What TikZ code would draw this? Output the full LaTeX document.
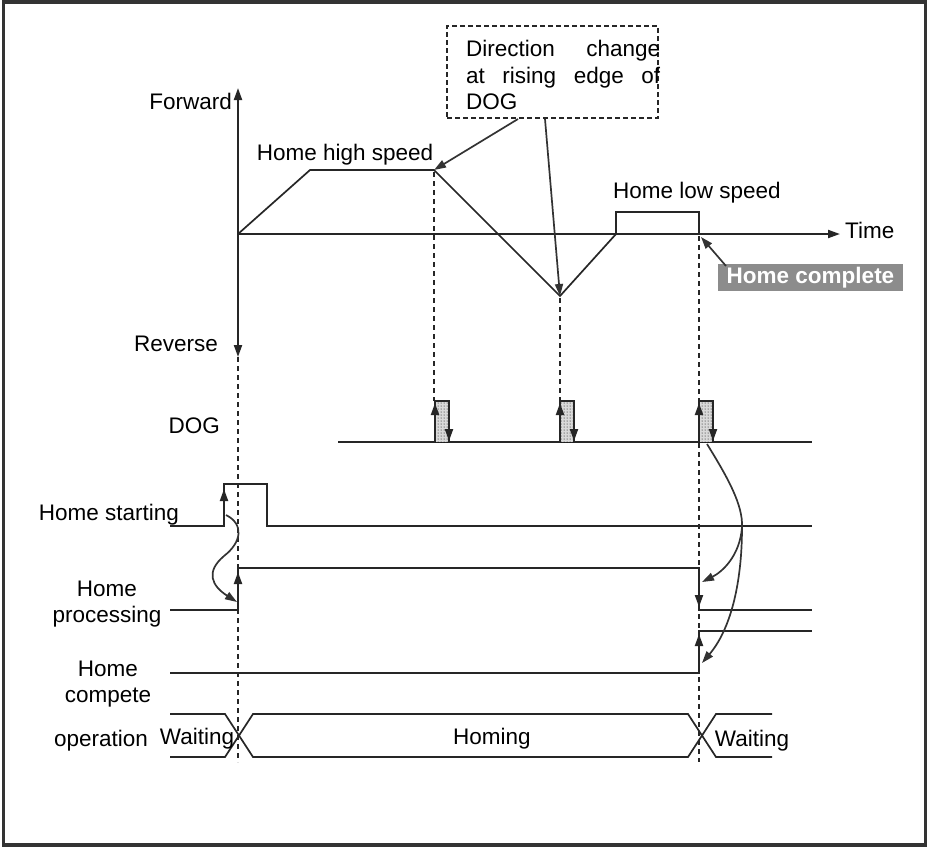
\documentclass[tikz,border=0pt]{standalone}
\usepackage{fontspec}
\setmainfont{Liberation Sans}
\usetikzlibrary{arrows.meta,patterns}
\begin{document}
\begin{tikzpicture}[x=1pt,y=-1pt,
  wave/.style={draw=black!85, line width=2pt},
  dline/.style={draw=black!85, line width=1.6pt, dash pattern=on 5pt off 4pt},
  arr/.style={draw=black!85, line width=2pt, -{Triangle[length=12pt,width=8pt]}},
  carr/.style={draw=black!80, line width=1.7pt, -{Triangle[length=12pt,width=8pt]}},
  lbl/.style={font=\fontsize{22.5}{26.5}\selectfont, inner sep=0pt, anchor=base},
  pulse/.style={draw=black!85, line width=2pt, pattern=dots, pattern color=black}]
\useasboundingbox (0,0) rectangle (928,847);
\draw[line width=3.5pt, black!80] (3.5,2) rectangle (925.5,845);

% ---------- speed profile ----------
\coordinate (O) at (238,234);
\coordinate (Ftop) at (238,88);
\coordinate (Rbot) at (238,357);
\coordinate (Tend) at (840,234);
\draw[arr] (O) -- (Ftop);
\draw[arr] (O) -- (Rbot);
\draw[arr] (O) -- (Tend);
\coordinate (hsA) at (310,170);
\coordinate (hsB) at (434,170);
\coordinate (vpt) at (560,296);
\coordinate (lsA) at (616,234);
\coordinate (lsB) at (699,234);
\draw[wave, line width=1.7pt] (O) -- (hsA) -- (hsB) -- (vpt) -- (lsA) -- (616,212) -- (699,212) -- (lsB);

\node[lbl, anchor=base east] (fwd) at (232,109) {Forward};
\node[lbl, anchor=base east] (rev) at (218,351) {Reverse};
\node[lbl, anchor=base west] (time) at (845,238) {Time};
\node[lbl] (hhs) at (345,160) {Home high speed};
\node[lbl] (hls) at (697,198) {Home low speed};

% Direction change box
\node[draw=black!85, line width=1.4pt, dash pattern=on 5pt off 3pt, minimum width=211pt, minimum height=92pt, inner sep=0pt] (dbox) at (552.5,72) {};
\node[lbl, anchor=base west] (d1) at (466,56) {\makebox[194pt][s]{Direction change}};
\node[lbl, anchor=base west] (d2) at (466,83) {\makebox[194pt][s]{at rising edge of}};
\node[lbl, anchor=base west] (d3) at (466,109) {DOG};
\coordinate (db1) at (518,119);
\coordinate (db2) at (545,119);
\draw[carr] (db1) -- (hsB);
\draw[carr] (db2) -- (vpt);

% Home complete
\node[fill=black!45, text=white, font=\fontsize{22.5}{26.5}\selectfont\bfseries, inner sep=0pt, minimum width=185pt, minimum height=27pt] (hc) at (810.5,277.5) {Home complete};
\coordinate (hcA) at (726,266);
\draw[carr] (hcA) -- (701,237);

% ---------- dashed guides ----------
\draw[dline] (238,357) -- (238,762);
\draw[dline] (434,172) -- (434,401);
\draw[dline] (560,298) -- (560,401);
\draw[dline] (699,236) -- (699,762);

% ---------- DOG ----------
\node[lbl, anchor=base east] (dog) at (220,433) {DOG};
\draw[wave] (338,442) -- (812,442);
\foreach \px in {435,560,699}{
  \fill[black!15] (\px,401) rectangle (\px+14,442);
  \draw[pulse] (\px,442) -- (\px,401) -- (\px+14,401) -- (\px+14,442);
  \draw[arr] (\px,428) -- (\px,403);
  \draw[arr] (\px+14,418) -- (\px+14,441);
}

% ---------- Home starting ----------
\node[lbl] (hst) at (109,520) {Home starting};
\draw[wave] (170,526) -- (224,526) -- (224,484) -- (267,484) -- (267,526) -- (812,526);
\draw[arr] (224,515) -- (224,489);

% ---------- Home processing ----------
\node[lbl] (hp1) at (107,596) {Home};
\node[lbl] (hp2) at (107,622) {processing};
\draw[wave] (170,610) -- (238,610) -- (238,568) -- (699,568) -- (699,610) -- (812,610);
\draw[arr] (238,600) -- (238,572);
\draw[arr] (699,580) -- (699,607);

% ---------- Home compete ----------
\node[lbl] (hc1) at (108,676) {Home};
\node[lbl] (hc2) at (108,702) {compete};
\draw[wave] (170,673) -- (699,673) -- (699,631) -- (812,631);
\draw[arr] (699,660) -- (699,634);

% ---------- curved arrows ----------
\coordinate (cs1) at (226,515);
\coordinate (ce1) at (237,602);
\draw[carr] (cs1) .. controls (244,524) and (242,542) .. (224,556) .. controls (205,572) and (212,586) .. (ce1);
\coordinate (cs2) at (707,444);
\coordinate (cm2) at (742,527);
\coordinate (ce2) at (702,582);
\coordinate (ce3) at (702,663);
\draw[carr] (cs2) .. controls (728,478) and (743,505) .. (cm2) .. controls (740,556) and (722,572) .. (ce2);
\draw[carr] (cm2) .. controls (742,585) and (730,630) .. (ce3);

% ---------- operation ----------
\node[lbl] (op) at (101,746) {operation};
\draw[wave, line width=1.7pt] (170,714) -- (225,714) -- (253,757) -- (688,757) -- (716,714) -- (772,714);
\draw[wave, line width=1.7pt] (170,757) -- (225,757) -- (253,714) -- (688,714) -- (716,757) -- (772,757);
\node[lbl] (w1) at (197,744) {Waiting};
\node[lbl] (hom) at (492,744) {Homing};
\node[lbl] (w2) at (752,746) {Waiting};
\end{tikzpicture}
\end{document}
